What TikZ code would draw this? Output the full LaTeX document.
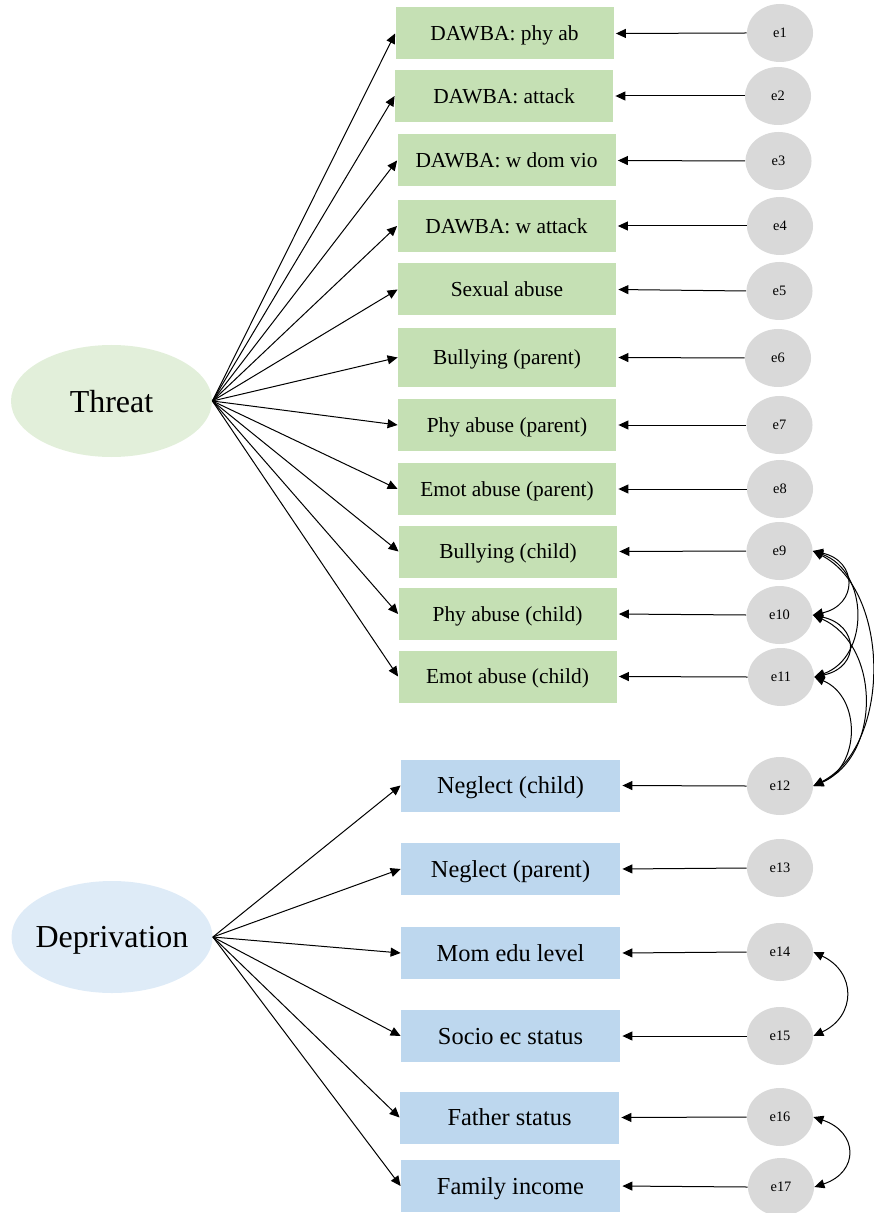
\documentclass[tikz,border=0pt]{standalone}
\usepackage{fontspec}
\setmainfont{Liberation Serif}
\usetikzlibrary{shapes.geometric,arrows.meta}

\definecolor{thrbox}{HTML}{C5E0B4}
\definecolor{thrlat}{HTML}{E2EFDA}
\definecolor{depbox}{HTML}{BDD7EE}
\definecolor{deplat}{HTML}{DEEBF7}
\definecolor{errfill}{HTML}{D9D9D9}

\tikzset{
  tip/.style={-{Triangle[length=5pt,width=4.5pt]}, line width=0.5pt},
  bitip/.style={{Triangle[length=5pt,width=4.5pt]}-{Triangle[length=5pt,width=4.5pt]}, line width=0.5pt},
  gbox/.style={rectangle, fill=thrbox, inner sep=0pt, minimum width=109pt, minimum height=26pt,
    text depth=0pt, font=\fontsize{10.7}{12}\selectfont},
  bbox/.style={rectangle, fill=depbox, inner sep=0pt, minimum width=109.5pt, minimum height=26pt,
    text depth=0pt, font=\fontsize{12.2}{14}\selectfont},
  errnode/.style={ellipse, fill=errfill, inner sep=0pt, minimum width=33pt, minimum height=29pt,
    font=\fontsize{7.2}{8}\selectfont},
  latent/.style={ellipse, inner ysep=0pt, inner xsep=-5pt, minimum width=100.5pt, minimum height=56pt,
    text depth=0pt, font=\fontsize{16}{18}\selectfont}
}

\begin{document}
\begin{tikzpicture}[x=0.5pt, y=-0.5pt]
\useasboundingbox (0,0) rectangle (873,1213);

% latent factors
\node[latent, fill=thrlat] (threat) at (111.5,401) {Threat};
\node[latent, fill=deplat] (depr) at (112,937) {Deprivation};

% threat indicators
\node[gbox] (b1)  at (504.5,33.5) {DAWBA: phy ab};
\node[gbox] (b2)  at (504,96)     {DAWBA: attack};
\node[gbox] (b3)  at (506.5,160.5){DAWBA: w dom vio};
\node[gbox] (b4)  at (506.5,226)  {DAWBA: w attack};
\node[gbox] (b5)  at (507,289.5)  {Sexual abuse};
\node[gbox, minimum height=29.5pt] (b6) at (507,357.5) {Bullying (parent)};
\node[gbox] (b7)  at (507,425)    {Phy abuse (parent)};
\node[gbox] (b8)  at (507,489)    {Emot abuse (parent)};
\node[gbox] (b9)  at (508,551.5)  {Bullying (child)};
\node[gbox] (b10) at (507.5,614)  {Phy abuse (child)};
\node[gbox] (b11) at (507.5,676.5){Emot abuse (child)};

% deprivation indicators
\node[bbox] (b12) at (510.5,785.5) {Neglect (child)};
\node[bbox] (b13) at (510.5,869)   {Neglect (parent)};
\node[bbox] (b14) at (510.5,953)   {Mom edu level};
\node[bbox] (b15) at (510.5,1036)  {Socio ec status};
\node[bbox] (b16) at (509.5,1117.5){Father status};
\node[bbox] (b17) at (510.5,1186)  {Family income};

% error terms
\node[errnode] (e1)  at (780,33)   {e1};
\node[errnode] (e2)  at (778,96)   {e2};
\node[errnode] (e3)  at (778.5,161){e3};
\node[errnode] (e4)  at (780,226)  {e4};
\node[errnode] (e5)  at (779.5,291){e5};
\node[errnode] (e6)  at (778,358)  {e6};
\node[errnode] (e7)  at (779.5,425){e7};
\node[errnode] (e8)  at (780,489)  {e8};
\node[errnode] (e9)  at (779.5,551){e9};
\node[errnode] (e10) at (779.5,615){e10};
\node[errnode] (e11) at (781,677)  {e11};
\node[errnode] (e12) at (780,786)  {e12};
\node[errnode] (e13) at (780,868)  {e13};
\node[errnode] (e14) at (780,952)  {e14};
\node[errnode] (e15) at (780,1036) {e15};
\node[errnode] (e16) at (780,1117) {e16};
\node[errnode] (e17) at (781,1187) {e17};

% loadings
\foreach \b in {b1,b2,b3,b4,b5,b6,b7,b8,b9,b10,b11}
  \draw[tip] (threat.east) -- (\b.west);
\foreach \b in {b12,b13,b14,b15,b16,b17}
  \draw[tip] (depr.east) -- (\b.west);

% residual paths
\foreach \i in {1,...,17}
  \draw[tip, shorten >=1pt] (e\i.west) -- (b\i.east);

% residual covariances
\draw[bitip] (e9.east)  .. controls +(45,10) and +(45,-10) .. (e10.east);
\draw[bitip] (e9.east)  .. controls +(56,20) and +(56,-20) .. (e11.east);
\draw[bitip] (e9.east)  .. controls +(78,40) and +(78,-40) .. (e12.east);
\draw[bitip] (e10.east) .. controls +(46,10) and +(46,-10) .. (e11.east);
\draw[bitip] (e10.east) .. controls +(68,30) and +(68,-30) .. (e12.east);
\draw[bitip] (e11.east) .. controls +(47,20) and +(47,-20) .. (e12.east);
\draw[bitip] (e14.east) .. controls +(43,20) and +(43,-20) .. (e15.east);
\draw[bitip] (e16.east) .. controls +(45,15) and +(45,-15) .. (e17.east);
\end{tikzpicture}
\end{document}
